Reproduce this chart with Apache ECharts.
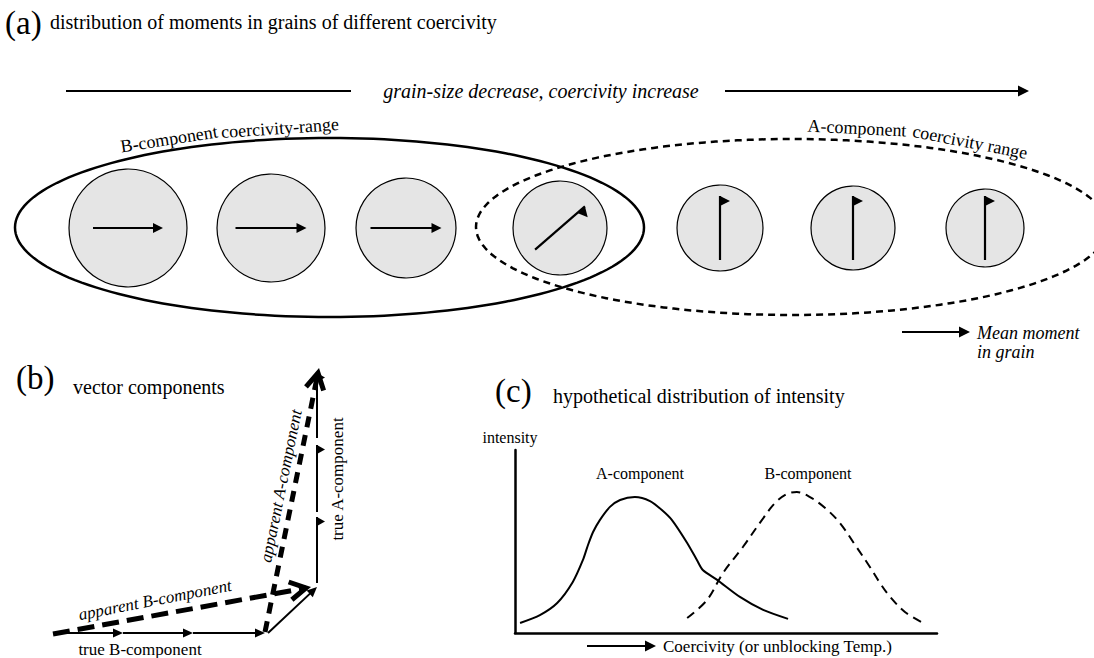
<!DOCTYPE html>
<html>
<head>
<meta charset="utf-8">
<script src="https://cdn.jsdelivr.net/npm/echarts@6/dist/echarts.min.js"></script>
<style>
  html, body { margin: 0; padding: 0; background: #fff; }
  #chart { width: 1094px; height: 658px; }
</style>
</head>
<body>
<div id="chart"></div>
<script>
// ---------- panel (a): grains of increasing coercivity ----------
const grainX = [128, 271, 406, 560, 720, 853, 985];
const grainR = [59, 54, 50, 47, 43, 42, 39];
const momentDeg = [0, 0, 0, 41, 90, 90, 90];   // direction of mean moment
const momentLen = [70, 71, 71, 66, 64, 64, 64];
const grainY = 228;
// coercivity ranges: cx, cy, rx, ry
const rangeB = [329.5, 227.5, 314.5, 89.5];
const rangeA = [792, 227, 316, 88];

// ---------- panel (b): vector components [x1, y1, x2, y2] ----------
const trueB = [[53, 633, 123, 633], [123, 633, 193, 633], [193, 633, 265, 633], [268, 633, 317, 587]];
const trueA = [[317, 583, 317, 517], [317, 512, 317, 445], [317, 438, 317, 373]];
const apparentB = [53, 634, 306, 588];
const apparentA = [265, 632, 318, 373];

// ---------- panel (c): intensity vs coercivity ----------
const curveA = [[1.2, 5.5], [5.9, 9.8], [10, 16.4], [13.7, 27.9], [16.1, 39.9], [17.3, 48.1], [18.5, 55.2],
  [20.1, 61.7], [22.5, 68.9], [24.9, 72.7], [28.4, 74.3], [32, 72.1], [34.8, 67.2], [37.2, 61.7],
  [40.8, 49.2], [43.1, 39.9], [44.5, 34.4], [47.9, 29], [53.3, 19.7], [58.8, 12.6], [64.7, 7.7]];
const curveB = [[40.8, 8.2], [45.5, 18], [49.3, 32.8], [54, 47], [58.5, 61.7], [61.6, 71], [64.5, 76],
  [66.8, 77], [69.9, 74.3], [73.5, 68.3], [77, 60.1], [80.6, 48.1], [84.1, 36.1], [86.5, 27.3],
  [88.9, 19.7], [92.4, 11.5], [96.7, 5.5]];

// plain lines and headed arrows on the page
const plainLines = [[66, 91, 351, 91]];
const headArrows = [[725, 91, 1029, 91], [902, 332, 970, 332], [587, 646, 656, 646]];

const SERIF = 'Liberation Serif';
const deg = d => d * Math.PI / 180;

// text: [content, x, y, rotationDeg]
const tagTexts = [['(a)', 5, 23, 0], ['(b)', 16, 378, 0], ['(c)', 495, 391, 0]];
const headTexts = [
  ['distribution of moments in grains of different coercivity', 50, 22, 0],
  ['vector components', 73, 387, 0],
  ['hypothetical distribution of intensity', 553, 396, 0]
];
const italicCenter = [['grain-size decrease, coercivity increase', 541, 91, 0]];
const rangeTexts = [
  ['B-component', 169, 139, 9], ['coercivity-range', 280, 128, 4],
  ['A-component', 857, 128, -3], ['coercivity range', 970, 142, -11]
];
const legendTexts = [['Mean moment', 977, 333, 0], ['in grain', 977, 352, 0]];
const bItalic = [['apparent B-component', 155, 600, 11], ['apparent A-component', 281, 486, 78.5]];
const bPlain = [['true A-component', 337, 479, 90], ['true B-component', 140, 649, 0]];
const cTexts = [['intensity', 510, 437, 0], ['A-component', 640, 473, 0], ['B-component', 808, 473, 0]];
const cAxisText = [['Coercivity (or unblocking Temp.)', 663, 646, 0]];

const chart = echarts.init(document.getElementById('chart'), null, { renderer: 'svg' });

function unit(p1, p2) {
  const l = Math.hypot(p2[0] - p1[0], p2[1] - p1[1]);
  return [(p2[0] - p1[0]) / l, (p2[1] - p1[1]) / l];
}

// shaft + head, in pixels
function arrowParts(p1, p2, o) {
  const d = unit(p1, p2);
  const n = [-d[1], d[0]];
  const L = o.headLen || 10, W = o.headW || 5;
  const back = [p2[0] - d[0] * L, p2[1] - d[1] * L];
  const out = [];
  let end = p2;
  if (o.head === 'full') end = [p2[0] - d[0] * L * 0.6, p2[1] - d[1] * L * 0.6];
  out.push({
    type: 'line',
    shape: { x1: p1[0], y1: p1[1], x2: end[0], y2: end[1] },
    style: { stroke: '#000', lineWidth: o.lw, lineDash: o.dash || null, fill: null }
  });
  if (o.head === 'full') {
    out.push({ type: 'polygon', shape: { points: [p2, [back[0] + n[0] * W, back[1] + n[1] * W], [back[0] - n[0] * W, back[1] - n[1] * W]] }, style: { fill: '#000' } });
  } else if (o.head === 'flag') {
    out.push({ type: 'polygon', shape: { points: [p2, back, [p2[0] - d[0] * L / 2 + n[0] * W, p2[1] - d[1] * L / 2 + n[1] * W]] }, style: { fill: '#000' } });
  } else if (o.head === 'chevron') {
    out.push({ type: 'polyline', shape: { points: [[back[0] + n[0] * W, back[1] + n[1] * W], p2, [back[0] - n[0] * W, back[1] - n[1] * W]] }, style: { stroke: '#000', fill: null, lineWidth: o.lw } });
  }
  return out;
}

function arrowSeries(rows, o) {
  return {
    type: 'custom', coordinateSystem: 'cartesian2d', xAxisIndex: 0, yAxisIndex: 0, silent: true,
    data: rows,
    renderItem: (params, api) => {
      const p1 = api.coord([api.value(0), api.value(1)]);
      const p2 = api.coord([api.value(2), api.value(3)]);
      return { type: 'group', children: arrowParts(p1, p2, o) };
    }
  };
}

function ellipseSeries(row, o) {
  return {
    type: 'custom', coordinateSystem: 'cartesian2d', xAxisIndex: 0, yAxisIndex: 0, silent: true,
    data: [row],
    renderItem: (params, api) => {
      const c = api.coord([api.value(0), api.value(1)]);
      const s = api.size([api.value(2), api.value(3)]);
      const rx = Math.abs(s[0]), ry = Math.abs(s[1]);
      const pts = [];
      for (let i = 0; i < 180; i++) {
        const t = i / 180 * Math.PI * 2;
        pts.push([c[0] + rx * Math.cos(t), c[1] + ry * Math.sin(t)]);
      }
      return { type: 'polygon', shape: { points: pts }, style: { fill: null, stroke: '#000', lineWidth: o.lw, lineDash: o.dash || null } };
    }
  };
}

function textSeries(rows, size, fontStyle, align) {
  return {
    type: 'custom', coordinateSystem: 'cartesian2d', xAxisIndex: 0, yAxisIndex: 0, silent: true,
    data: rows.map(r => [r[1], r[2]]),
    renderItem: (params, api) => {
      const r = rows[params.dataIndex];
      const p = api.coord([api.value(0), api.value(1)]);
      return {
        type: 'text', x: p[0], y: p[1], rotation: deg(r[3]),
        style: {
          text: r[0], fontFamily: SERIF, fontSize: size, fontStyle: fontStyle, fill: '#000',
          align: align, verticalAlign: 'middle', textAlign: align, textVerticalAlign: 'middle'
        }
      };
    }
  };
}

const grainSeries = {
  type: 'custom', coordinateSystem: 'cartesian2d', xAxisIndex: 0, yAxisIndex: 0, silent: true,
  data: grainX.map((x, i) => [x, grainY, grainR[i], momentDeg[i], momentLen[i]]),
  renderItem: (params, api) => {
    const c = api.coord([api.value(0), api.value(1)]);
    const r = Math.abs(api.size([api.value(2), 0])[0]);
    const a = deg(api.value(3));
    const half = Math.abs(api.size([api.value(4), 0])[0]) / 2;
    const d = [Math.cos(a), -Math.sin(a)];
    const p1 = [c[0] - d[0] * half, c[1] - d[1] * half];
    const p2 = [c[0] + d[0] * half, c[1] + d[1] * half];
    const head = api.value(3) === 0 ? 'full' : 'flag';
    return {
      type: 'group',
      children: [{ type: 'circle', shape: { cx: c[0], cy: c[1], r: r }, style: { fill: '#e5e5e5', stroke: '#000', lineWidth: 1.2 } }]
        .concat(arrowParts(p1, p2, { lw: 2.2, head: head, headLen: 10, headW: head === 'full' ? 5 : 10 }))
    };
  }
};

const hiddenAxis = { show: false };

chart.setOption({
  animation: false,
  backgroundColor: '#fff',
  grid: [
    { left: 0, top: 0, right: 0, bottom: 0 },
    { left: 515, top: 450, width: 422, height: 183 }
  ],
  xAxis: [
    { type: 'value', gridIndex: 0, min: 0, max: 1094, ...hiddenAxis },
    {
      type: 'value', gridIndex: 1, min: 0, max: 100,
      axisLine: { show: true, onZero: false, lineStyle: { color: '#000', width: 2.5 } },
      axisTick: { show: false }, axisLabel: { show: false }, splitLine: { show: false }
    }
  ],
  yAxis: [
    { type: 'value', gridIndex: 0, min: 0, max: 658, inverse: true, ...hiddenAxis },
    {
      type: 'value', gridIndex: 1, min: 0, max: 100,
      axisLine: { show: true, onZero: false, lineStyle: { color: '#000', width: 2.5 } },
      axisTick: { show: false }, axisLabel: { show: false }, splitLine: { show: false }
    }
  ],
  series: [
    ellipseSeries(rangeB, { lw: 2.5 }),
    ellipseSeries(rangeA, { lw: 2.5, dash: [7, 5] }),
    grainSeries,
    arrowSeries(plainLines, { lw: 2 }),
    arrowSeries(headArrows, { lw: 2, head: 'full', headLen: 11, headW: 5.5 }),
    arrowSeries(trueB, { lw: 2, head: 'full', headLen: 10, headW: 4.5 }),
    arrowSeries(trueA, { lw: 2, head: 'flag', headLen: 9, headW: 8 }),
    arrowSeries([apparentB], { lw: 5, head: 'chevron', headLen: 16, headW: 9, dash: [17, 8] }),
    arrowSeries([apparentA], { lw: 5, head: 'chevron', headLen: 16, headW: 9, dash: [11, 8] }),
    {
      type: 'line', xAxisIndex: 1, yAxisIndex: 1, data: curveA, smooth: 0.25, showSymbol: false, silent: true,
      lineStyle: { color: '#000', width: 2 }, itemStyle: { color: '#000' }
    },
    {
      type: 'line', xAxisIndex: 1, yAxisIndex: 1, data: curveB, smooth: 0.35, showSymbol: false, silent: true,
      lineStyle: { color: '#000', width: 2, type: [9, 6] }, itemStyle: { color: '#000' }
    },
    textSeries(tagTexts, 33, 'normal', 'left'),
    textSeries(headTexts, 20, 'normal', 'left'),
    textSeries(italicCenter, 20, 'italic', 'center'),
    textSeries(rangeTexts, 18, 'normal', 'center'),
    textSeries(legendTexts, 18, 'italic', 'left'),
    textSeries(bItalic, 17, 'italic', 'center'),
    textSeries(bPlain, 17, 'normal', 'center'),
    textSeries(cTexts, 16, 'normal', 'center'),
    textSeries(cAxisText, 17, 'normal', 'left')
  ]
});
</script>
</body>
</html>
